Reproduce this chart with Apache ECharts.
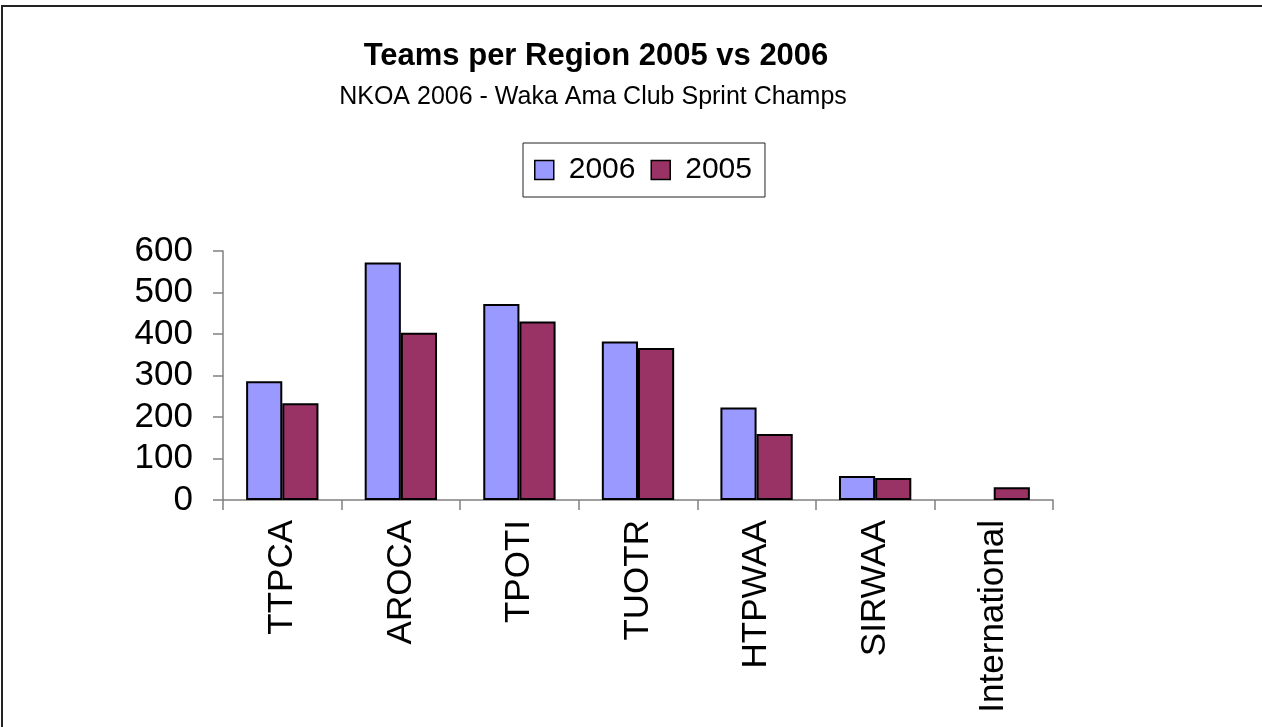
<!DOCTYPE html>
<html>
<head>
<meta charset="utf-8">
<script src="https://cdn.jsdelivr.net/npm/echarts@6/dist/echarts.min.js"></script>
<style>
html,body{margin:0;padding:0;background:#fff;}
#chart{width:1262px;height:727px;}
</style>
</head>
<body>
<div id="chart"></div>
<script>
var categories = ['TTPCA', 'AROCA', 'TPOTI', 'TUOTR', 'HTPWAA', 'SIRWAA', 'International'];
var values2006 = [286, 572, 472, 382, 223, 58, null];
var values2005 = [233, 403, 430, 366, 159, 53, 31];
var yTicks = { min: 0, max: 600, interval: 100 };
var titleText = 'Teams per Region 2005 vs 2006';
var subtitleText = 'NKOA 2006 - Waka Ama Club Sprint Champs';

var FONT = '"Liberation Sans", Arial, sans-serif';
var chart = echarts.init(document.getElementById('chart'), null, { renderer: 'canvas' });
chart.setOption({
  backgroundColor: '#fff',
  animation: false,
  graphic: [{
    type: 'rect',
    shape: { x: 2, y: 6, width: 1400, height: 900 },
    style: { fill: 'none', stroke: '#222', lineWidth: 2 },
    silent: true
  }],
  title: [{
    text: titleText,
    left: 596, top: 41, padding: 0, textAlign: 'center',
    textStyle: { fontFamily: FONT, fontSize: 31, fontWeight: 'bold', color: '#000' }
  }, {
    text: subtitleText,
    left: 593, top: 85, padding: 0, textAlign: 'center',
    textStyle: { fontFamily: FONT, fontSize: 25, fontWeight: 'normal', color: '#000' }
  }],
  legend: {
    left: 523, top: 143,
    padding: [10, 13, 10, 11],
    itemGap: 15,
    itemWidth: 19, itemHeight: 19,
    icon: 'rect',
    borderColor: '#222', borderWidth: 1,
    textStyle: { fontFamily: FONT, fontSize: 30, color: '#000', padding: [0, 0, 0, 10], lineHeight: 34 },
    itemStyle: { borderColor: '#000', borderWidth: 1.5 },
    data: ['2006', '2005']
  },
  grid: { left: 223, right: 209, top: 251, bottom: 227, containLabel: false },
  xAxis: {
    type: 'category',
    data: categories,
    axisLine: { lineStyle: { color: '#808080', width: 1.5 } },
    axisTick: { show: true, length: 10, alignWithLabel: false, lineStyle: { color: '#808080', width: 1.5 } },
    axisLabel: {
      rotate: 90, margin: 20, interval: 0,
      fontFamily: FONT, fontSize: 35, color: '#000'
    }
  },
  yAxis: {
    type: 'value',
    min: yTicks.min, max: yTicks.max, interval: yTicks.interval,
    splitLine: { show: false },
    axisLine: { show: true, lineStyle: { color: '#808080', width: 1.5 } },
    axisTick: { show: true, length: 10, lineStyle: { color: '#808080', width: 1.5 } },
    axisLabel: { margin: 30, fontFamily: FONT, fontSize: 35, color: '#000' }
  },
  series: [{
    name: '2006', type: 'bar', data: values2006,
    barGap: '0%', barCategoryGap: '39%',
    itemStyle: { color: '#9999FF', borderColor: '#000', borderWidth: 2 }
  }, {
    name: '2005', type: 'bar', data: values2005,
    barGap: '0%', barCategoryGap: '39%',
    itemStyle: { color: '#993366', borderColor: '#000', borderWidth: 2 }
  }]
});
</script>
</body>
</html>
